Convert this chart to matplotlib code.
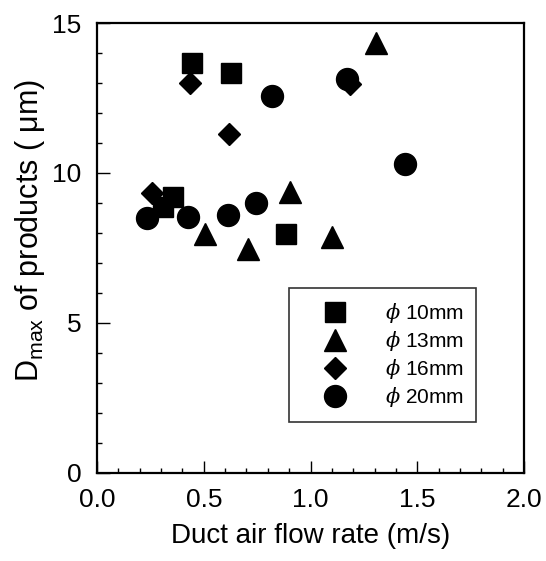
import matplotlib
matplotlib.use("Agg")
import matplotlib.pyplot as plt
from matplotlib.ticker import MultipleLocator

plt.rcParams["font.family"] = ["Liberation Sans", "DejaVu Sans"]
plt.rcParams["mathtext.fontset"] = "custom"
plt.rcParams["mathtext.rm"] = "Liberation Sans"
plt.rcParams["mathtext.it"] = "DejaVu Serif:italic"

# ── datos ──
sq_x = [0.446, 0.628, 0.355, 0.31, 0.884]
sq_y = [13.66, 13.34, 9.19, 8.88, 7.96]

tri_x = [1.307, 0.904, 0.506, 0.709, 1.102]
tri_y = [14.35, 9.36, 7.97, 7.47, 7.86]

dia_x = [0.436, 0.617, 0.256, 1.183]
dia_y = [13.01, 11.31, 9.32, 12.97]

cir_x = [0.233, 0.428, 0.612, 0.743, 0.821, 1.169, 1.443]
cir_y = [8.49, 8.54, 8.60, 8.99, 12.57, 13.12, 10.30]

labels = [r"$\phi$ 10mm", r"$\phi$ 13mm", r"$\phi$ 16mm", r"$\phi$ 20mm"]

fig = plt.figure(figsize=(5.46, 5.61), dpi=100, facecolor="white")
ax = fig.add_axes([0.1777, 0.1569, 0.782, 0.8021])

ax.plot(sq_x, sq_y, "s", color="black", ms=14.4, ls="none", label=labels[0])
ax.plot(tri_x, tri_y, "^", color="black", ms=15.5, ls="none", label=labels[1])
ax.plot(dia_x, dia_y, "D", color="black", ms=10.8, ls="none", label=labels[2])
ax.plot(cir_x, cir_y, "o", color="black", ms=15.8, ls="none", label=labels[3])

ax.set_xlim(0, 2.0)
ax.set_ylim(0, 15)
ax.xaxis.set_major_locator(MultipleLocator(0.5))
ax.xaxis.set_minor_locator(MultipleLocator(0.1))
ax.yaxis.set_major_locator(MultipleLocator(5))
ax.yaxis.set_minor_locator(MultipleLocator(1))
ax.xaxis.set_major_formatter(plt.FuncFormatter(lambda v, _: f"{v:.1f}"))
ax.tick_params(which="both", direction="in", top=False, right=False, width=1.0)
ax.tick_params(which="major", length=9, labelsize=19, pad=11)
ax.tick_params(which="minor", length=3.8)

for spine in ax.spines.values():
    spine.set_linewidth(1.6)

ax.set_xlabel("Duct air flow rate (m/s)", fontsize=20, labelpad=8)
ax.set_ylabel(r"D$_{\mathrm{max}}$ of products ( μm)", fontsize=22)
ax.yaxis.set_label_coords(-0.118, 0.54)

leg = ax.legend(loc="upper left", bbox_to_anchor=(0.450, 0.410),
                fontsize=15, frameon=True, fancybox=False, edgecolor="black",
                borderpad=0.6, labelspacing=0.2, handletextpad=0.8,
                borderaxespad=0, markerscale=1.0, handlelength=3.2)
leg.get_frame().set_linewidth(1.2)

plt.savefig("out.png", dpi=100, facecolor="white")
